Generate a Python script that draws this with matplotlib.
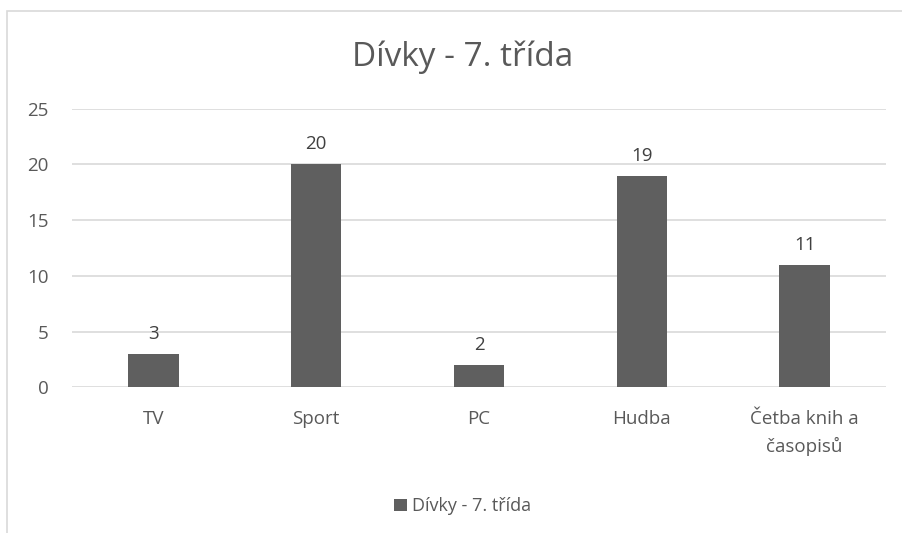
import matplotlib.pyplot as plt
from matplotlib.patches import Rectangle

plt.rcParams['font.family'] = ['Open Sans', 'DejaVu Sans']

# data
categories = ["TV", "Sport", "PC", "Hudba", "Četba knih a\nčasopisů"]
values = [3, 20, 2, 19, 11]
series_name = "Dívky - 7. třída"
y_ticks = [0, 5, 10, 15, 20, 25]

text_col = "#595959"
bar_col = "#5f5f5f"
grid_col = "#d9d9d9"

fig = plt.figure(figsize=(9.02, 5.33), dpi=100)
ax = fig.add_axes([0.0798, 0.2734, 0.9024, 0.5225])

x = list(range(len(categories)))
bars = ax.bar(x, values, width=0.31, color=bar_col, label=series_name, zorder=3)

for b, v in zip(bars, values):
    ax.annotate(str(v), (b.get_x() + b.get_width() / 2, v), xytext=(0, 8),
                textcoords="offset points", ha="center", va="bottom",
                fontsize=13.5, color="#404040")

ax.set_xlim(-0.5, len(categories) - 0.5)
ax.set_ylim(0, 25)
ax.set_yticks(y_ticks)
ax.set_xticks(x)
ax.set_xticklabels(categories, linespacing=1.6)
ax.yaxis.grid(True, color=grid_col, linewidth=1.2, zorder=0)
ax.tick_params(axis="both", length=0, labelsize=13.5, colors=text_col)
ax.tick_params(axis="x", pad=16)
ax.tick_params(axis="y", pad=17)
for s in ax.spines.values():
    s.set_visible(False)

fig.text(0.513, 0.893, series_name, ha="center", va="center", fontsize=24, color=text_col)

fig.legend(handles=[bars], labels=[series_name], loc="center", bbox_to_anchor=(0.513, 0.05),
           frameon=False, fontsize=13, labelcolor=text_col, handlelength=0.7, handleheight=0.7,
           handletextpad=0.3)

# outer chart border (left and top visible)
fig.patches.append(Rectangle((0.008, -0.01), 1.1, 0.99, transform=fig.transFigure,
                             fill=False, edgecolor="#d9d9d9", linewidth=1.2))

fig.savefig("out.png", dpi=100)
